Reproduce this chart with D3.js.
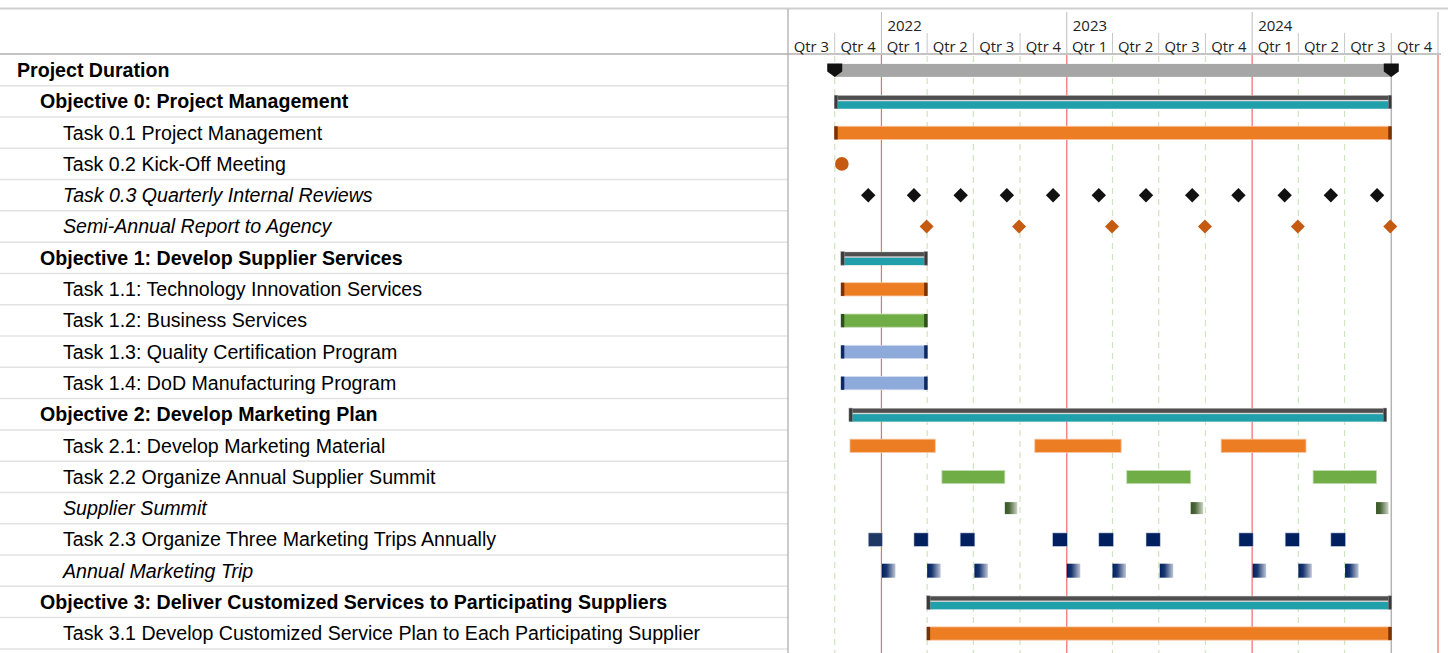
<!DOCTYPE html>
<html><head><meta charset="utf-8">
<script src="https://cdn.jsdelivr.net/npm/d3@7"></script>
<style>body{margin:0;background:#fff;} svg{display:block}</style>
</head><body><svg id="c" width="1448" height="653"></svg>
<script>
// ---------------- DATA ----------------
const rowLabels = [
  "Project Duration",
  "Objective 0: Project Management",
  "Task 0.1 Project Management",
  "Task 0.2 Kick-Off Meeting",
  "Task 0.3 Quarterly Internal Reviews",
  "Semi-Annual Report to Agency",
  "Objective 1: Develop Supplier Services",
  "Task 1.1: Technology Innovation Services",
  "Task 1.2: Business Services",
  "Task 1.3: Quality Certification Program",
  "Task 1.4: DoD Manufacturing Program",
  "Objective 2: Develop Marketing Plan",
  "Task 2.1: Develop Marketing Material",
  "Task 2.2 Organize Annual Supplier Summit",
  "Supplier Summit",
  "Task 2.3 Organize Three Marketing Trips Annually",
  "Annual Marketing Trip",
  "Objective 3: Deliver Customized Services to Participating Suppliers",
  "Task 3.1 Develop Customized Service Plan to Each Participating Supplier"
];
const rowLevels = [0,1,2,2,2,2,1,2,2,2,2,1,2,2,2,2,2,1,2];
const rowItalic = [0,0,0,0,1,1,0,0,0,0,0,0,0,0,1,0,1,0,0];

const quarterStarts = ["2021-07-01","2021-10-01","2022-01-01","2022-04-01","2022-07-01","2022-10-01",
  "2023-01-01","2023-04-01","2023-07-01","2023-10-01","2024-01-01","2024-04-01","2024-07-01","2024-10-01"];
const quarterLabels = ["Qtr 3","Qtr 4","Qtr 1","Qtr 2","Qtr 3","Qtr 4","Qtr 1","Qtr 2","Qtr 3","Qtr 4","Qtr 1","Qtr 2","Qtr 3","Qtr 4"];
const yearStarts = ["2022-01-01","2023-01-01","2024-01-01"];
const yearLabels = ["2022","2023","2024"];
const timelineEnd = "2025-01-01";
const statusDate = "2024-10-01";

const projectDuration = ["2021-10-01","2024-10-01"];

const summaryBars = [
  {row:1,  start:"2021-10-01", end:"2024-10-01"},
  {row:6,  start:"2021-10-14", end:"2022-04-01"},
  {row:11, start:"2021-10-30", end:"2024-09-21"},
  {row:17, start:"2022-04-01", end:"2024-10-01"}
];

const taskBars = [
  {row:2,  start:"2021-10-01", end:"2024-10-01"},
  {row:7,  start:"2021-10-14", end:"2022-04-01"},
  {row:8,  start:"2021-10-14", end:"2022-04-01"},
  {row:9,  start:"2021-10-14", end:"2022-04-01"},
  {row:10, start:"2021-10-14", end:"2022-04-01"},
  {row:12, start:"2021-10-31", end:"2022-04-17"},
  {row:12, start:"2022-10-30", end:"2023-04-18"},
  {row:12, start:"2023-11-01", end:"2024-04-16"},
  {row:13, start:"2022-04-30", end:"2022-09-01"},
  {row:13, start:"2023-04-29", end:"2023-09-02"},
  {row:13, start:"2024-04-30", end:"2024-09-02"},
  {row:18, start:"2022-04-01", end:"2024-10-01"}
];

const kickOff = ["2021-10-15"];
const quarterlyReviews = ["2021-12-06","2022-03-06","2022-06-06","2022-09-05","2022-12-05","2023-03-05",
  "2023-06-06","2023-09-05","2023-12-05","2024-03-05","2024-06-04","2024-09-03"];
const semiAnnualReports = ["2022-03-31","2022-09-29","2023-03-31","2023-09-30","2024-03-31","2024-09-29"];
const supplierSummits = ["2022-09-01","2023-09-02","2024-09-01"];
const marketingTrips = [
  {start:"2021-12-06", end:"2022-01-03"},
  {start:"2022-03-06", end:"2022-04-03"},
  {start:"2022-06-05", end:"2022-07-04"},
  {start:"2022-12-04", end:"2023-01-02"},
  {start:"2023-03-05", end:"2023-04-03"},
  {start:"2023-06-06", end:"2023-07-04"},
  {start:"2023-12-06", end:"2024-01-03"},
  {start:"2024-03-06", end:"2024-04-03"},
  {start:"2024-06-04", end:"2024-07-03"}
];
const annualTrips = ["2022-01-02","2022-04-01","2022-07-03","2023-01-01","2023-04-01","2023-07-03",
  "2024-01-02","2024-04-01","2024-07-02"];

// ---------------- STYLE ----------------
const rowBarStyle = {2:"orange",7:"orange",8:"green",9:"blue",10:"blue",12:"orange",13:"green",18:"orange"};
const rowHasCaps = {2:true,7:true,8:true,9:true,10:true,18:true};
const palette = {
  orange:{fill:"#ed7d22", cap:"#7a3308", edge:"#f6c29c"},
  green:{fill:"#70ad47", cap:"#2f4f1c", edge:"#c5deb5"},
  blue:{fill:"#8eaadb", cap:"#0d2a64", edge:"#d3ddf0"}
};

// ---------------- SETUP ----------------
const W = 1448, H = 653;
const parse = d3.utcParse("%Y-%m-%d");
const svg = d3.select("#c");
const leftW = 788;
const x = d3.scaleUtc().domain([parse(quarterStarts[0]), parse(timelineEnd)]).range([788, 1438]);
const y = d3.scaleBand().domain(d3.range(rowLabels.length)).range([54.4, 54.4 + 31.29*rowLabels.length]).padding(0);
const rh = y.bandwidth();
const headerFont = "'Open Sans', 'Segoe UI', sans-serif";
const labelFont = "'Liberation Sans Narrow', 'Arial Narrow', 'Liberation Sans', Arial, sans-serif";

// left table row separators
svg.append("g").selectAll("line").data(d3.range(1, rowLabels.length+1)).join("line")
  .attr("x1", 0).attr("x2", leftW).attr("y1", i => y(0) + i*rh).attr("y2", i => y(0) + i*rh)
  .attr("stroke", "#e2e2e2").attr("stroke-width", 1.5);

// gridlines in chart area
const gGrid = svg.append("g");
const qLines = quarterStarts.slice(1).filter(d => !yearStarts.includes(d) && d !== statusDate);
gGrid.selectAll("line.q").data(qLines).join("line")
  .attr("x1", d => x(parse(d))).attr("x2", d => x(parse(d)))
  .attr("y1", 56).attr("y2", H)
  .attr("stroke", "#cfe5bd").attr("stroke-width", 1.2).attr("stroke-dasharray", "6,5");
gGrid.selectAll("line.y").data(yearStarts.concat([timelineEnd])).join("line")
  .attr("x1", d => x(parse(d))).attr("x2", d => x(parse(d)))
  .attr("y1", 55).attr("y2", H)
  .attr("stroke", "#f26b6b").attr("stroke-width", 1.2);
gGrid.append("line")
  .attr("x1", x(parse(statusDate))).attr("x2", x(parse(statusDate)))
  .attr("y1", 55).attr("y2", H).attr("stroke", "#b4b4b4").attr("stroke-width", 1.5);

// header
const gH = svg.append("g");
gH.append("line").attr("x1", 0).attr("x2", W).attr("y1", 8.5).attr("y2", 8.5).attr("stroke", "#cfcfcf").attr("stroke-width", 2);
gH.append("line").attr("x1", 0).attr("x2", 1441).attr("y1", 54).attr("y2", 54).attr("stroke", "#b0b0b0").attr("stroke-width", 1.5);
gH.append("line").attr("x1", leftW).attr("x2", leftW).attr("y1", 9).attr("y2", H).attr("stroke", "#a8a8a8").attr("stroke-width", 1.2);
gH.selectAll("line.yh").data(yearStarts.concat([timelineEnd])).join("line")
  .attr("x1", d => x(parse(d))).attr("x2", d => x(parse(d))).attr("y1", 12).attr("y2", 54)
  .attr("stroke", "#bdbdbd").attr("stroke-width", 1);
gH.selectAll("line.qh").data(quarterStarts.slice(1).filter(d => !yearStarts.includes(d))).join("line")
  .attr("x1", d => x(parse(d))).attr("x2", d => x(parse(d))).attr("y1", 33).attr("y2", 54)
  .attr("stroke", "#c8c8c8").attr("stroke-width", 1);
gH.selectAll("text.yl").data(yearStarts).join("text")
  .attr("x", d => x(parse(d)) + 6).attr("y", 31)
  .attr("font-family", headerFont).attr("font-size", 15).attr("fill", "#222")
  .text((d, i) => yearLabels[i]);
const qEnds = quarterStarts.slice(1).concat([timelineEnd]);
gH.selectAll("text.ql").data(quarterStarts).join("text")
  .attr("x", (d, i) => (x(parse(d)) + x(parse(qEnds[i]))) / 2).attr("y", 51.5)
  .attr("text-anchor", "middle")
  .attr("font-family", headerFont).attr("font-size", 14.8).attr("fill", "#222")
  .text((d, i) => quarterLabels[i]);

// row labels
const indent = [17, 40, 63];
svg.append("g").selectAll("text").data(rowLabels).join("text")
  .attr("x", (d, i) => indent[rowLevels[i]])
  .attr("y", (d, i) => y(i) + rh/2 + 7)
  .attr("font-family", labelFont).attr("font-size", 19.6)
  .attr("font-weight", (d, i) => rowLevels[i] < 2 ? "bold" : "normal")
  .attr("font-style", (d, i) => rowItalic[i] ? "italic" : "normal")
  .attr("fill", "#000")
  .text(d => d);

// ---------------- MARKS ----------------
const gM = svg.append("g");
const defs = svg.append("defs");
function grad(id, color) {
  const g = defs.append("linearGradient").attr("id", id).attr("x1", "0").attr("x2", "1").attr("y1", "0").attr("y2", "0");
  g.append("stop").attr("offset", "0").attr("stop-color", color).attr("stop-opacity", 1);
  g.append("stop").attr("offset", "0.35").attr("stop-color", color).attr("stop-opacity", 0.9);
  g.append("stop").attr("offset", "1").attr("stop-color", color).attr("stop-opacity", 0.25);
}
grad("gGreen", "#375623");
grad("gNavy", "#002060");

// project duration
{
  const t = y(0), x0 = x(parse(projectDuration[0])), x1 = x(parse(projectDuration[1]));
  gM.append("rect").attr("x", x0).attr("y", t + 9.5).attr("width", x1 - x0).attr("height", 13).attr("fill", "#a6a6a6");
  const marker = (cx) => `M${cx-7.5},${t+9}L${cx+7.5},${t+9}L${cx+7.5},${t+17}L${cx},${t+22.5}L${cx-7.5},${t+17}Z`;
  gM.selectAll("path.pd").data([x0, x1]).join("path").attr("d", d => marker(d)).attr("fill", "#111");
}

// summary bars
summaryBars.forEach(b => {
  const t = y(b.row), x0 = x(parse(b.start)), x1 = x(parse(b.end));
  gM.append("rect").attr("x", x0).attr("y", t + 9.5).attr("width", x1 - x0).attr("height", 13.5).attr("fill", "#d6d6d6");
  gM.append("rect").attr("x", x0).attr("y", t + 10).attr("width", x1 - x0).attr("height", 4.2).attr("fill", "#4f4f4f");
  gM.append("rect").attr("x", x0).attr("y", t + 15.6).attr("width", x1 - x0).attr("height", 7.4).attr("fill", "#1fa0aa");
  [x0 - 0.5, x1 - 3].forEach(cx => gM.append("rect").attr("x", cx).attr("y", t + 9.5).attr("width", 3.5).attr("height", 13.5)
    .attr("fill", "#3a3a3a").attr("stroke", "#9a9a9a").attr("stroke-width", 0.5));
});

// task bars
taskBars.forEach(b => {
  const t = y(b.row), x0 = x(parse(b.start)), x1 = x(parse(b.end));
  const p = palette[rowBarStyle[b.row]];
  gM.append("rect").attr("x", x0).attr("y", t + 9.3).attr("width", x1 - x0).attr("height", 13.2)
    .attr("fill", p.fill).attr("stroke", p.edge).attr("stroke-width", 0.8);
  if (rowHasCaps[b.row]) {
    [x0 - 0.5, x1 - 3].forEach(cx => gM.append("rect").attr("x", cx).attr("y", t + 9.3).attr("width", 3.5).attr("height", 13.2)
      .attr("fill", p.cap));
  }
});

// kick-off
gM.selectAll("circle.ko").data(kickOff).join("circle")
  .attr("cx", d => x(parse(d))).attr("cy", y(3) + rh/2).attr("r", 6.8).attr("fill", "#c55a11");

// diamonds
const diamond = (cx, cy, r) => `M${cx},${cy-r}L${cx+r},${cy}L${cx},${cy+r}L${cx-r},${cy}Z`;
gM.selectAll("path.qr").data(quarterlyReviews).join("path")
  .attr("d", d => diamond(x(parse(d)), y(4) + rh/2, 7.2)).attr("fill", "#111");
gM.selectAll("path.sa").data(semiAnnualReports).join("path")
  .attr("d", d => diamond(x(parse(d)), y(5) + rh/2, 7)).attr("fill", "#c55a11");

// supplier summits
gM.selectAll("rect.ss").data(supplierSummits).join("rect")
  .attr("x", d => x(parse(d))).attr("y", y(14) + rh/2 - 6).attr("width", 12.5).attr("height", 12)
  .attr("fill", "url(#gGreen)");

// marketing trips
gM.selectAll("rect.mt").data(marketingTrips).join("rect")
  .attr("x", d => x(parse(d.start))).attr("y", y(15) + rh/2 - 6.5)
  .attr("width", d => x(parse(d.end)) - x(parse(d.start))).attr("height", 13.5)
  .attr("fill", (d, i) => i === 0 ? "#1f3864" : "#002060")
  .attr("stroke", "#c9d2e6").attr("stroke-width", 0.6);

// annual marketing trip milestones
gM.selectAll("rect.at").data(annualTrips).join("rect")
  .attr("x", d => x(parse(d))).attr("y", y(16) + rh/2 - 7).attr("width", 13.5).attr("height", 14)
  .attr("fill", "url(#gNavy)");
</script>
</body></html>
